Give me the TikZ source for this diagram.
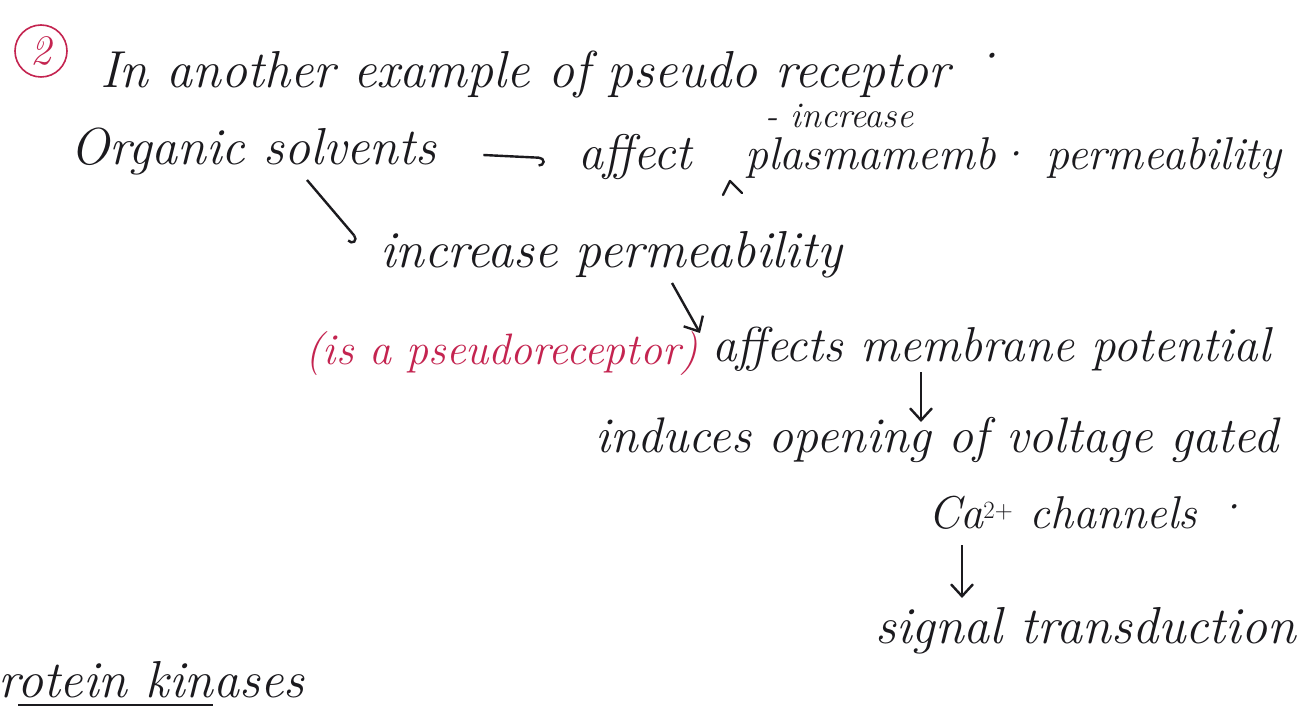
\documentclass[tikz,border=0pt]{standalone}
\usepackage{xcolor}
\usepackage{tikz}
\usetikzlibrary{arrows.meta,positioning}
\definecolor{ink}{HTML}{1B1A1E}
\definecolor{redink}{HTML}{C42450}

\begin{document}
\begin{tikzpicture}[
  x=1pt, y=-1pt,
  hand/.style={inner sep=0pt,anchor=base west,text=ink,font=\fontsize{50}{56}\selectfont\itshape},
  note/.style={hand,text=redink,font=\fontsize{44}{50}\selectfont\itshape},
  arr/.style={-{Straight Barb[length=12pt,width=22pt]},line width=2.4pt,ink},
  hook/.style={-{Hooks[right,length=6pt,width=18pt]},line width=2.4pt,ink},
]
\useasboundingbox[fill=white] (0,0) rectangle (1306,708);

% heading line
\node[draw=redink,circle,line width=1.6pt,minimum size=52pt,inner sep=0pt,text=redink,font=\fontsize{42}{46}\selectfont\itshape] (num) at (41,51) {2};
\node[hand,font=\fontsize{52}{58}\selectfont\itshape] (intro) at (100,88) {In another example of pseudo receptor \raisebox{14pt}{·}};
\node[hand,font=\fontsize{36}{42}\selectfont\itshape] (incr) at (765,128) {- increase};

% organic solvents branch
\node[hand,font=\fontsize{52}{58}\selectfont\itshape] (solv) at (70,165) {Organic solvents};
\node[hand] (affect) at (578,170) {affect};
\node[hand,font=\fontsize{46}{52}\selectfont\itshape] (plasma) at (745,170) {plasmamemb· permeability};
\node[hand,font=\fontsize{52}{58}\selectfont\itshape] (incperm) at (380,268) {increase permeability};
\node[note] (pseudo) at (305,365) {(is a pseudoreceptor)};
\node[hand,font=\fontsize{49}{55}\selectfont\itshape] (affmem) at (712,362) {affects membrane potential};
\node[hand] (induces) at (595,452) {induces opening of voltage gated};
\node[hand,font=\fontsize{46}{52}\selectfont\itshape] (chan) at (928,528) {Ca$^{2+}$ channels \raisebox{6pt}{·}};
\node[hand,font=\fontsize{52}{58}\selectfont\itshape] (signal) at (875,643) {signal transduction};
\node[hand,font=\fontsize{52}{58}\selectfont\itshape] (kinase) at (-2,697) {rotein kinases};

\draw[hook] ([shift={(47,-10)}]solv.base east) -- ([shift={(-33,-12)}]affect.base west);
\draw[hook] ([shift={(237,15)}]solv.base west) -- ([shift={(-22,-28)}]incperm.base west);
\draw[arr] ([shift={(292,15)}]incperm.base west) -- ([shift={(-12,-29)}]affmem.base west);
\draw[arr] ([shift={(209,10)}]affmem.base west) -- ([shift={(326,-30)}]induces.base west);
\draw[arr] ([shift={(34,17)}]chan.base west) -- ([shift={(87,-45)}]signal.base west);

% insertion mark and underline
\draw[ink,line width=2.4pt,line cap=round,line join=round] ([shift={(-22,25)}]plasma.base west) -- ++(7,-14) -- ++(12,12);
\draw[ink,line width=1.4pt] ([shift={(20,8)}]kinase.base west) -- ([shift={(215,8)}]kinase.base west);
\end{tikzpicture}
\end{document}
